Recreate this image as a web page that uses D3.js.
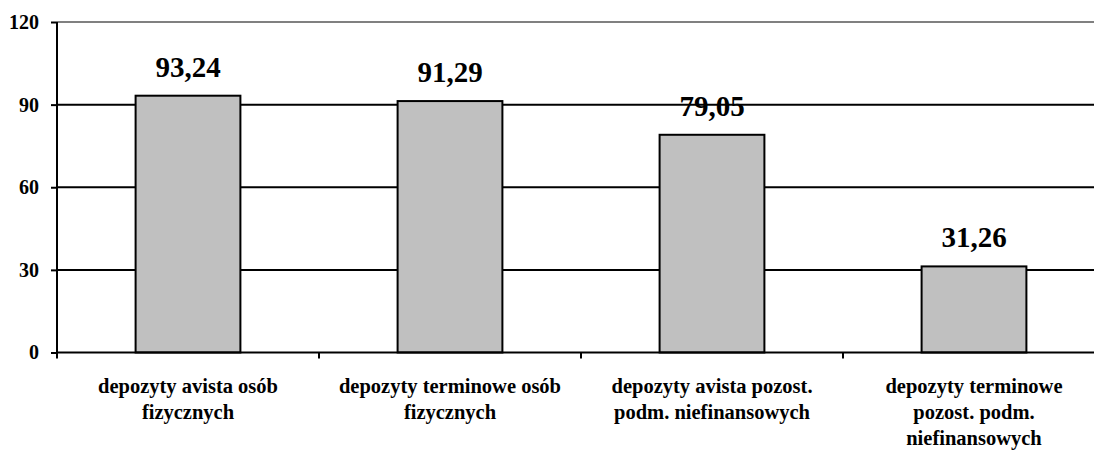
<!DOCTYPE html>
<html lang="pl">
<head>
  <meta charset="utf-8">
  <title>Depozyty</title>
  <script src="https://d3js.org/d3.v7.min.js"></script>
  <style>
    body { margin: 0; background: #fff; }
  </style>
</head>
<body>
  <div id="chart"></div>
  <script>
    var categories = [
      ['depozyty avista osób', 'fizycznych'],
      ['depozyty terminowe osób', 'fizycznych'],
      ['depozyty avista pozost.', 'podm. niefinansowych'],
      ['depozyty terminowe', 'pozost. podm.', 'niefinansowych']
    ];
    var values = [93.24, 91.29, 79.05, 31.26];
    var yTicks = [0, 30, 60, 90, 120];

    var FONT = "'Liberation Serif', 'Times New Roman', 'DejaVu Serif', serif";
    var w = 1094, h = 450;
    var margin = {top: 22, right: -11, bottom: 97.5, left: 57};
    var innerW = w - margin.left - margin.right,
      innerH = h - margin.top - margin.bottom;

    var svg = d3.select('#chart').append('svg')
        .attr('width', w)
        .attr('height', h)
      .append('g')
        .attr('transform', 'translate(' + [margin.left, margin.top] + ')');

    var x = d3.scaleBand()
      .domain(d3.range(values.length))
      .range([0, innerW])
      .paddingInner(0.6).paddingOuter(0.3);
    var band = innerW / values.length;

    var y = d3.scaleLinear().domain([0, 120]).range([innerH, 0]);

    // gridlines
    svg.selectAll('.grid')
      .data(yTicks.slice(1))
      .enter().append('line')
        .attr('x1', 0).attr('x2', innerW)
        .attr('y1', function(d){return y(d);}).attr('y2', function(d){return y(d);})
        .attr('stroke', function(d){return d === 120 ? '#808080' : '#000';})
        .attr('stroke-width', 2);

    // bars
    svg.selectAll('.bar')
      .data(values)
      .enter().append('rect')
        .attr('x', function(d, i){return x(i);})
        .attr('y', function(d){return y(d);})
        .attr('width', x.bandwidth())
        .attr('height', function(d){return innerH - y(d);})
        .attr('fill', '#c0c0c0')
        .attr('stroke', '#000')
        .attr('stroke-width', 2);

    // value labels
    svg.selectAll('.val')
      .data(values)
      .enter().append('text')
        .attr('x', function(d, i){return x(i) + x.bandwidth() / 2;})
        .attr('y', function(d){return y(d) - 19;})
        .attr('text-anchor', 'middle')
        .style('font-family', FONT).style('font-weight', 'bold')
        .style('font-size', '29px')
        .text(function(d){return d.toFixed(2).replace('.', ',');});

    // y axis
    var yAxis = d3.axisLeft(y).tickValues(yTicks).tickSize(6).tickPadding(12)
      .tickFormat(function(d){return d;});
    var ya = svg.append('g').call(yAxis);
    ya.select('.domain').attr('stroke', '#000').attr('stroke-width', 2).attr('d', 'M0,' + innerH + 'V0');
    ya.selectAll('.tick line').attr('stroke', '#000').attr('stroke-width', 2);
    ya.selectAll('.tick text')
      .style('font-family', FONT).style('font-weight', 'bold')
      .style('font-size', '20px').attr('fill', '#000');

    // x axis line + ticks between categories
    var xa = svg.append('g').attr('transform', 'translate(0,' + innerH + ')');
    xa.append('line').attr('x1', 0).attr('x2', innerW).attr('stroke', '#000').attr('stroke-width', 2);
    xa.selectAll('.xt')
      .data(d3.range(values.length + 1))
      .enter().append('line')
        .attr('x1', function(i){return i * band;}).attr('x2', function(i){return i * band;})
        .attr('y1', 0).attr('y2', 6)
        .attr('stroke', '#000').attr('stroke-width', 2);

    // category labels
    var cat = xa.selectAll('.cat')
      .data(categories)
      .enter().append('text')
        .attr('text-anchor', 'middle')
        .style('font-family', FONT).style('font-weight', 'bold')
        .style('font-size', '20.5px')
        .attr('transform', function(d, i){return 'translate(' + (x(i) + x.bandwidth() / 2) + ',40)';});
    cat.selectAll('tspan')
      .data(function(d){return d;})
      .enter().append('tspan')
        .attr('x', 0)
        .attr('y', function(d, j){return j * 26;})
        .text(function(d){return d;});
  </script>
</body>
</html>
